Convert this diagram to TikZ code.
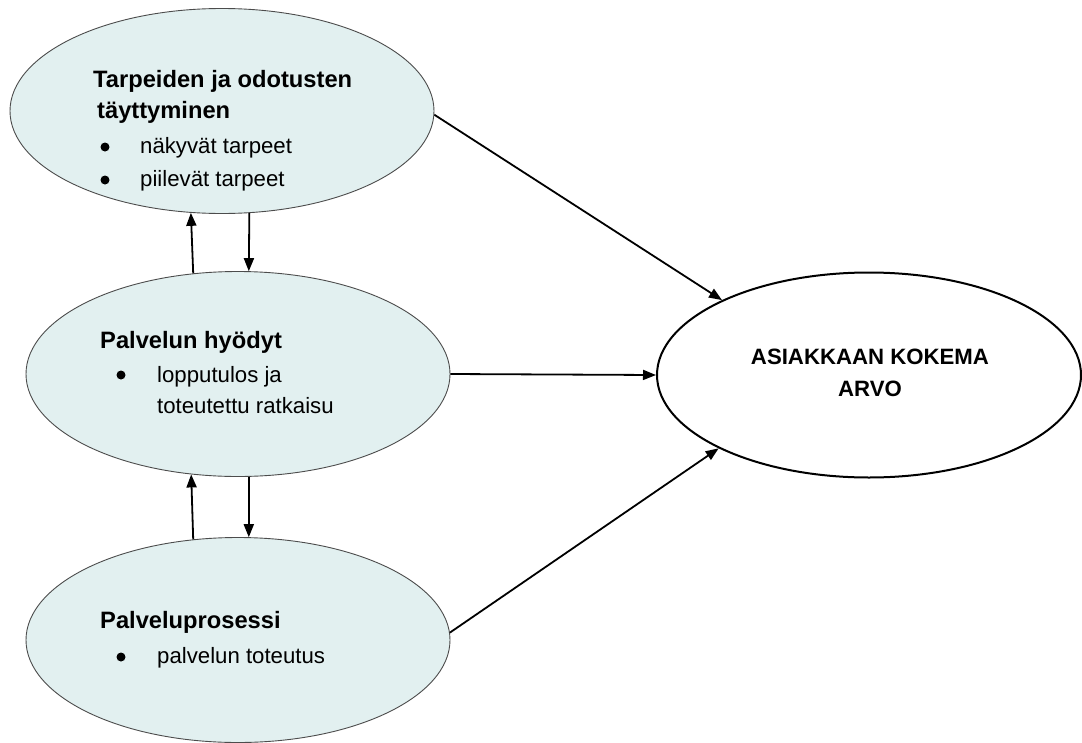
\documentclass[tikz,border=0pt]{standalone}
\usepackage{fontspec}
\setmainfont{Liberation Sans}
\usetikzlibrary{shapes.geometric,arrows.meta}
\definecolor{cellfill}{RGB}{226,240,240}
\begin{document}
\begin{tikzpicture}[x=1pt,y=-1pt,
  blob/.style={ellipse, draw=black!70, line width=0.9pt, fill=cellfill, minimum width=424pt, minimum height=205pt, inner sep=0pt},
  goal/.style={ellipse, draw=black, line width=2pt, fill=white, minimum width=424pt, minimum height=205pt, inner sep=0pt},
  headtxt/.style={anchor=base west, inner sep=0pt, font=\fontsize{23.7}{28}\selectfont\bfseries},
  itemtxt/.style={anchor=base west, inner sep=0pt, font=\fontsize{22.2}{27}\selectfont},
  goaltxt/.style={anchor=base, inner sep=0pt, font=\fontsize{22.2}{27}\selectfont\bfseries},
  bulletdot/.style={circle, fill=black, inner sep=0pt, minimum size=9pt},
  arr/.style={line width=1.8pt, -{Triangle[length=13pt,width=10pt]}}]
\useasboundingbox (0,0) rectangle (1082,742);
\clip (0,0) rectangle (1082,742);
\fill[white] (0,0) rectangle (1082,742);
% ellipses
\node[blob] (e1) at (222,111) {};
\node[blob] (e2) at (238,374) {};
\node[blob] (e3) at (238,640) {};
\node[goal] (e4) at (869,375) {};
% texts of e1
\node[headtxt] (t1a) at (93,87) {Tarpeiden ja odotusten};
\node[headtxt] (t1b) at (97,118) {täyttyminen};
\node[bulletdot] (d1a) at (105,147) {};
\node[itemtxt] (t1c) at (140,153) {näkyvät tarpeet};
\node[bulletdot] (d1b) at (105,180) {};
\node[itemtxt] (t1d) at (140,186) {piilevät tarpeet};
% texts of e2
\node[headtxt] (t2a) at (100,348) {Palvelun hyödyt};
\node[bulletdot] (d2a) at (121,375) {};
\node[itemtxt] (t2b) at (157,382) {lopputulos ja};
\node[itemtxt] (t2c) at (157,413) {toteutettu ratkaisu};
% texts of e3
\node[headtxt] (t3a) at (100,628) {Palveluprosessi};
\node[bulletdot] (d3a) at (121,657) {};
\node[itemtxt] (t3b) at (157,663) {palvelun toteutus};
% texts of e4
\node[goaltxt] (t4a) at (870,364) {ASIAKKAAN KOKEMA};
\node[goaltxt] (t4b) at (870,396) {ARVO};
% connectors
\draw[arr] (e1.-1) -- (e4.153);
\draw[arr] (e2.east) -- (e4.west);
\draw[arr] (e3.2) -- (e4.206);
\draw[arr] (e2.114.6) -- (e1.253.5);
\draw[arr] (e1.285) -- (e2.84);
\draw[arr] (e3.114.6) -- (e2.245.4);
\draw[arr] (e2.276) -- (e3.84);
\end{tikzpicture}
\end{document}
